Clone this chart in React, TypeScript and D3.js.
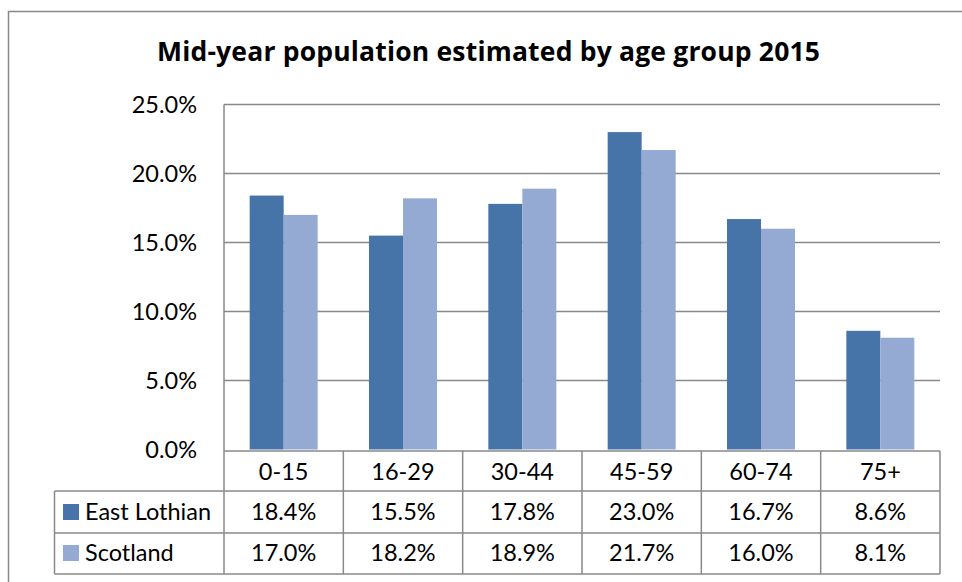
import React from "react";
import * as d3 from "d3";

const categories = ["0-15", "16-29", "30-44", "45-59", "60-74", "75+"];
const seriesNames = ["East Lothian", "Scotland"];
const eastLothian = [18.4, 15.5, 17.8, 23.0, 16.7, 8.6];
const scotland = [17.0, 18.2, 18.9, 21.7, 16.0, 8.1];
const yTicks = [0, 5, 10, 15, 20, 25];
const title = "Mid-year population estimated by age group 2015";

const colors = ["#4673A8", "#95AAD2"];
const gridColor = "#898989";
const font = "Lato, 'Open Sans', sans-serif";

export default function App() {
  const seriesValues = [eastLothian, scotland];
  const x0 = d3.scaleBand<string>().domain(categories).range([224, 940]).padding(0);
  const x1 = d3
    .scaleBand<string>()
    .domain(seriesNames)
    .range([0, x0.bandwidth()])
    .paddingInner(0)
    .paddingOuter(0.755);
  const y = d3.scaleLinear().domain([0, 25]).range([449.5, 104.5]);
  const fmt = (v: number) => d3.format(".1f")(v) + "%";

  const tableLeft = 54.5;
  const rowLines = [451, 491, 533, 574];
  const rowBaselines = [520, 561];
  const fs = 23.5;

  return (
    <svg
      width={962}
      height={582}
      style={{ position: "absolute", left: 0, top: 0, background: "#fff" }}
      fontFamily={font}
    >
      <rect x={0} y={0} width={962} height={582} fill="#fff" />
      {/* outer frame */}
      <path d="M8.5,590 V11.5 H970" fill="none" stroke="#888" strokeWidth={1.5} />
      <text
        x={488.5}
        y={61}
        textAnchor="middle"
        fontSize={26.5}
        fontWeight="bold"
        fontFamily="'Open Sans', sans-serif"
        textLength={663}
        lengthAdjust="spacing"
        fill="#000"
      >
        {title}
      </text>

      {/* gridlines */}
      {yTicks.slice(1).map((t) => (
        <line key={t} x1={224} x2={940} y1={y(t)} y2={y(t)} stroke={gridColor} strokeWidth={1.5} />
      ))}
      {/* y tick labels */}
      {yTicks.map((t) => (
        <text key={t} x={197} y={y(t) + 8} textAnchor="end" fontSize={fs} fill="#000">
          {fmt(t)}
        </text>
      ))}

      {/* bars */}
      {categories.map((c, i) => (
        <g key={c} transform={`translate(${x0(c)},0)`}>
          {seriesNames.map((s, k) => (
            <rect
              key={s}
              x={x1(s)}
              y={y(seriesValues[k][i])}
              width={x1.bandwidth()}
              height={y(0) - y(seriesValues[k][i])}
              fill={colors[k]}
            />
          ))}
        </g>
      ))}

      {/* table lines */}
      <line x1={224} x2={224} y1={104.5} y2={574} stroke={gridColor} strokeWidth={1.5} />
      <line x1={224} x2={940} y1={rowLines[0]} y2={rowLines[0]} stroke={gridColor} strokeWidth={1.5} />
      {rowLines.slice(1).map((r) => (
        <line key={r} x1={tableLeft} x2={940} y1={r} y2={r} stroke={gridColor} strokeWidth={1.5} />
      ))}
      <line x1={tableLeft} x2={tableLeft} y1={491} y2={574} stroke={gridColor} strokeWidth={1.5} />
      {categories.map((c) => (
        <line
          key={c}
          x1={(x0(c) as number) + x0.bandwidth()}
          x2={(x0(c) as number) + x0.bandwidth()}
          y1={451}
          y2={574}
          stroke={gridColor}
          strokeWidth={1.5}
        />
      ))}

      {/* category labels */}
      {categories.map((c) => (
        <text
          key={c}
          x={(x0(c) as number) + x0.bandwidth() / 2}
          y={480}
          textAnchor="middle"
          fontSize={fs}
          fill="#000"
        >
          {c}
        </text>
      ))}

      {/* series rows */}
      {seriesNames.map((s, k) => (
        <g key={s}>
          <rect x={63} y={rowBaselines[k] - 16} width={16} height={16} fill={colors[k]} />
          <text x={85} y={rowBaselines[k]} fontSize={fs} fill="#000">
            {s}
          </text>
          {categories.map((c, i) => (
            <text
              key={c}
              x={(x0(c) as number) + x0.bandwidth() / 2}
              y={rowBaselines[k]}
              textAnchor="middle"
              fontSize={fs}
              fill="#000"
            >
              {fmt(seriesValues[k][i])}
            </text>
          ))}
        </g>
      ))}
    </svg>
  );
}
